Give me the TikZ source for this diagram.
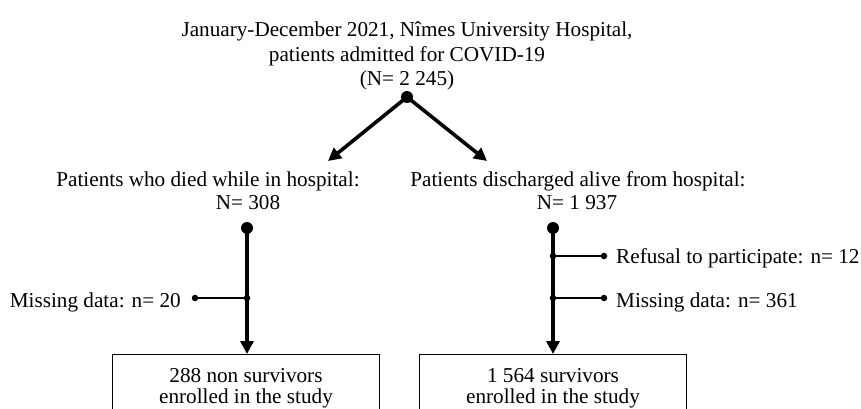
\documentclass[tikz,border=0pt]{standalone}
\usepackage{fontspec}
\setmainfont{Liberation Serif}
\usetikzlibrary{arrows.meta}
\begin{document}
\begin{tikzpicture}[x=1pt,y=-1pt,
  txt/.style={inner sep=0pt,font=\fontsize{21.2}{23}\selectfont},
  bigdot/.style={circle,fill=black,inner sep=0pt,minimum size=12pt},
  smalldot/.style={circle,fill=black,inner sep=0pt,minimum size=6.5pt},
  arr/.style={line width=3.6pt,-{Triangle[length=13pt,width=13pt]}},
  branch/.style={line width=2.3pt},
  box/.style={draw,line width=1.2pt,minimum width=267pt,anchor=north,align=center,
    inner ysep=13.5pt,inner xsep=0pt,font=\fontsize{21.2}{21.5}\selectfont}]
\useasboundingbox[fill=white] (0,0) rectangle (861,409);
% title
\node[txt,anchor=base] (t1) at (407,37) {January-December 2021, Nîmes University Hospital,};
\node[txt,anchor=base] (t2) at (407,62) {patients admitted for COVID-19};
\node[txt,anchor=base] (t3) at (407,86) {(N= 2 245)};
% split
\node[bigdot] (d0) at (407,97) {};
\coordinate (aL) at (328,161);
\coordinate (aR) at (487,161);
\draw[arr] (d0.center) -- (aL);
\draw[arr] (d0.center) -- (aR);
% group labels
\node[txt,anchor=base] (gl1) at (208,186) {Patients who died while in hospital:};
\node[txt,anchor=base] (gl2) at (248,209) {N= 308};
\node[txt,anchor=base] (gr1) at (578,186) {Patients discharged alive from hospital:};
\node[txt,anchor=base] (gr2) at (577,209) {N= 1 937};
% boxes
\node[box] (lbox) at (246,354) {288 non survivors\\enrolled in the study};
\node[box] (rbox) at (553,354) {1 564 survivors\\enrolled in the study};
% left trunk
\node[bigdot] (dl) at (247,228) {};
\node[smalldot] (jl) at (247,298) {};
\node[smalldot] (el) at (195,298) {};
\draw[arr] (dl.center) -- (247,354);
\draw[branch] (jl.center) -- (el.center);
\node[txt,anchor=base east] (ml) at (181,307) {Missing data: n= 20};
% right trunk
\node[bigdot] (dr) at (553,228) {};
\node[smalldot] (jr1) at (553,256) {};
\node[smalldot] (jr2) at (553,298) {};
\node[smalldot] (er1) at (604,256) {};
\node[smalldot] (er2) at (604,298) {};
\draw[arr] (dr.center) -- (rbox.north);
\draw[branch] (jr1.center) -- (er1.center);
\draw[branch] (jr2.center) -- (er2.center);
\node[txt,anchor=base west] (rf) at (616,263) {Refusal to participate: n= 12};
\node[txt,anchor=base west] (mr) at (616,307) {Missing data: n= 361};
\end{tikzpicture}
\end{document}
